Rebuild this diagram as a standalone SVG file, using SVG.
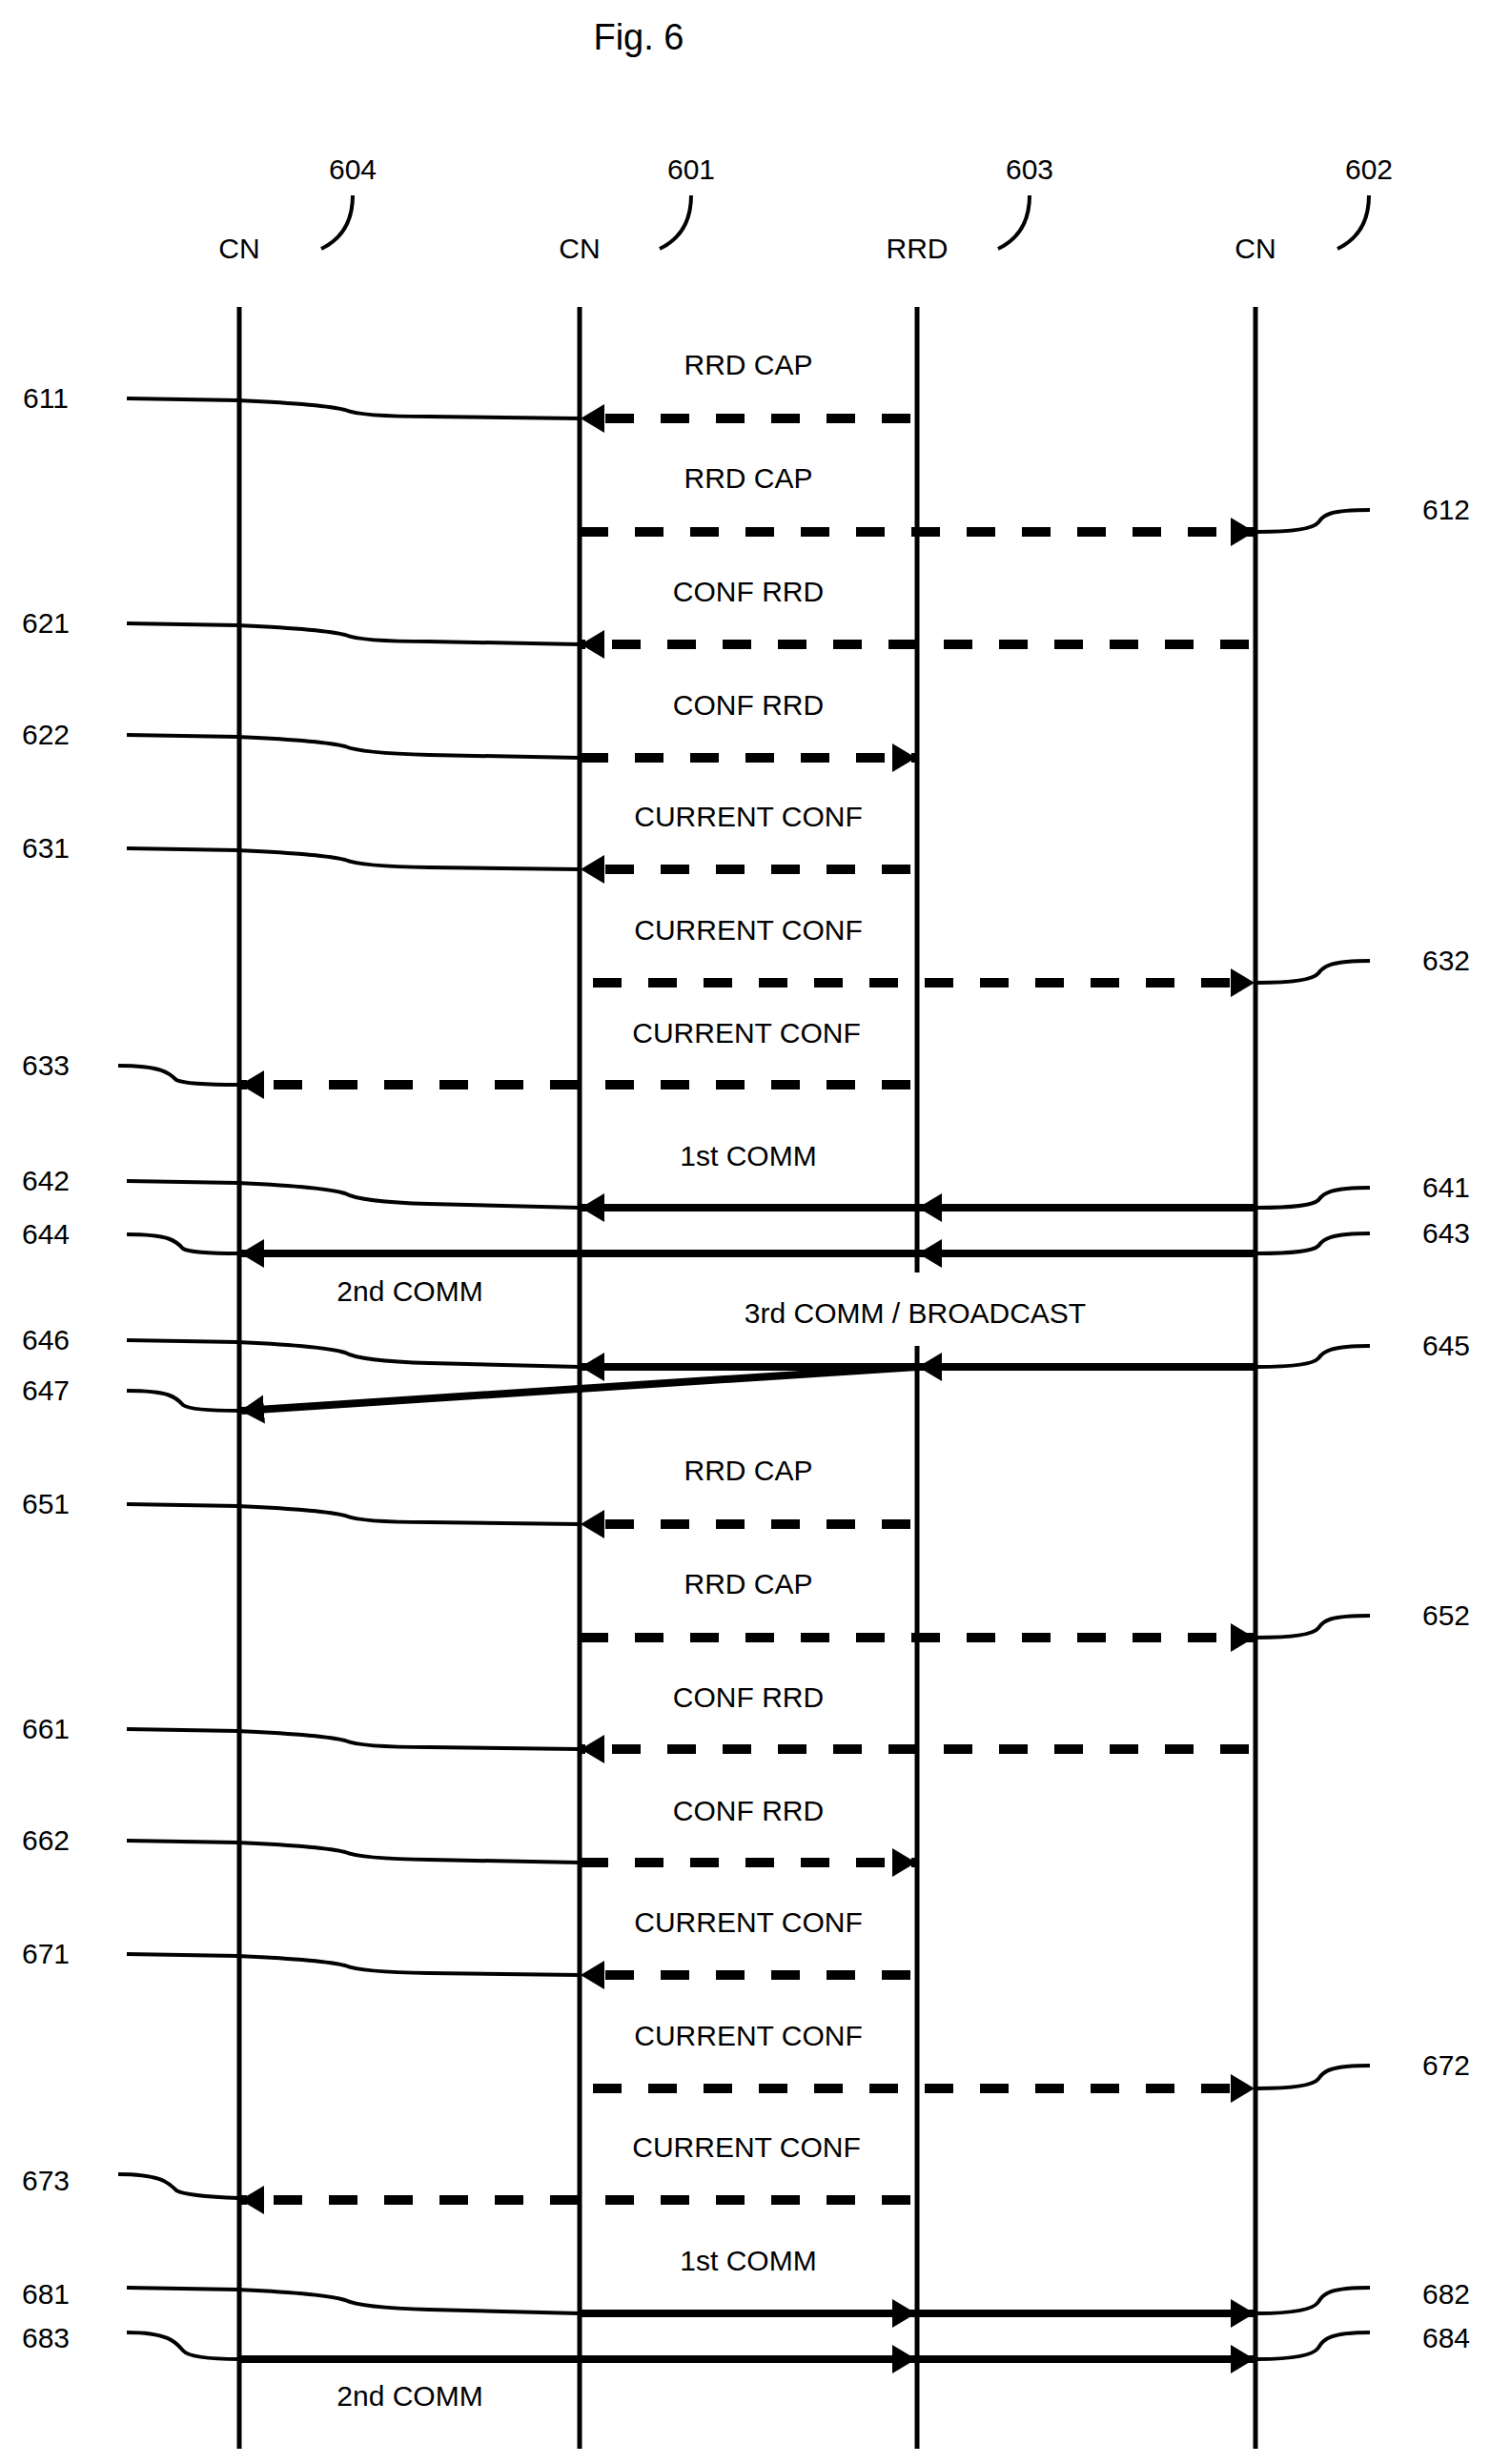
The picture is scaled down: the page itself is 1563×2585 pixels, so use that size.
<svg xmlns="http://www.w3.org/2000/svg" width="1563" height="2585" viewBox="0 0 1563 2585">
<style>
text{font-family:"Liberation Sans",Arial,sans-serif;font-size:30px;fill:#000;text-anchor:middle}
.life{stroke:#000;stroke-width:5;fill:none}
.dash{stroke:#000;stroke-width:10;stroke-dasharray:30 28;fill:none;marker-end:url(#ah)}
.solid{stroke:#000;stroke-width:8;fill:none;marker-end:url(#ah)}
.lead{stroke:#000;stroke-width:4;fill:none}
</style>
<defs>
<marker id="ah" markerUnits="userSpaceOnUse" markerWidth="26" markerHeight="32" viewBox="0 -16 26 32" refX="24" refY="0" orient="auto">
<path d="M0,-15 L25,0 L0,15 z" fill="#000"/>
</marker>
</defs>
<text x="670" y="52" style="font-size:38px">Fig. 6</text>
<g id="n604"><text x="370" y="188">604</text><text x="251" y="271">CN</text><path class="lead" d="M370,205 C370,230 360,250 337,261"/><line class="life" x1="251" y1="322" x2="251" y2="2569"/></g>
<g id="n601"><text x="725" y="188">601</text><text x="608" y="271">CN</text><path class="lead" d="M725,205 C725,230 715,250 692,261"/><line class="life" x1="608" y1="322" x2="608" y2="2569"/></g>
<g id="n603"><text x="1080" y="188">603</text><text x="962" y="271">RRD</text><path class="lead" d="M1080,205 C1080,230 1070,250 1047,261"/><path class="life" d="M962,322 V1335 M962,1412 V2569"/></g>
<g id="n602"><text x="1436" y="188">602</text><text x="1317" y="271">CN</text><path class="lead" d="M1436,205 C1436,230 1426,250 1403,261"/><line class="life" x1="1317" y1="322" x2="1317" y2="2569"/></g>
<g id="labels">
<text x="785" y="393">RRD CAP</text><text x="785" y="512">RRD CAP</text><text x="785" y="631">CONF RRD</text><text x="785" y="750">CONF RRD</text>
<text x="785" y="867">CURRENT CONF</text><text x="785" y="986">CURRENT CONF</text><text x="783" y="1094">CURRENT CONF</text>
<text x="785" y="1223">1st COMM</text><text x="430" y="1365">2nd COMM</text><text x="960" y="1388">3rd COMM / BROADCAST</text>
<text x="785" y="1553">RRD CAP</text><text x="785" y="1672">RRD CAP</text><text x="785" y="1791">CONF RRD</text><text x="785" y="1910">CONF RRD</text>
<text x="785" y="2027">CURRENT CONF</text><text x="785" y="2146">CURRENT CONF</text><text x="783" y="2263">CURRENT CONF</text>
<text x="785" y="2382">1st COMM</text><text x="430" y="2524">2nd COMM</text>
<text x="48" y="428">611</text><text x="1517" y="545">612</text><text x="48" y="664">621</text><text x="48" y="781">622</text>
<text x="48" y="900">631</text><text x="1517" y="1018">632</text><text x="48" y="1128">633</text>
<text x="48" y="1249">642</text><text x="1517" y="1256">641</text><text x="48" y="1305">644</text><text x="1517" y="1304">643</text>
<text x="48" y="1416">646</text><text x="1517" y="1422">645</text><text x="48" y="1469">647</text>
<text x="48" y="1588">651</text><text x="1517" y="1705">652</text><text x="48" y="1824">661</text><text x="48" y="1941">662</text>
<text x="48" y="2060">671</text><text x="1517" y="2177">672</text><text x="48" y="2298">673</text>
<text x="48" y="2417">681</text><text x="1517" y="2417">682</text><text x="48" y="2463">683</text><text x="1517" y="2463">684</text>
</g>
<g id="connectors">
<path class="dash" d="M955,439 H610"/>
<path class="dash" d="M608,558 H1315"/>
<path class="dash" d="M1310,676 H610"/>
<path class="dash" d="M608,795 H960"/>
<path class="dash" d="M955,912 H610"/>
<path class="dash" d="M622,1031 H1315"/>
<path class="dash" d="M955,1138 H253"/>
<path class="solid" d="M1317,1267 H964"/><path class="solid" d="M962,1267 H610"/>
<path class="solid" d="M1317,1315 H964"/><path class="solid" d="M962,1315 H253"/>
<path class="solid" d="M1317,1434 H964"/><path class="solid" d="M962,1434 H610"/><path class="solid" d="M962,1434 L253,1480"/>
<path class="dash" d="M955,1599 H610"/>
<path class="dash" d="M608,1718 H1315"/>
<path class="dash" d="M1310,1835 H610"/>
<path class="dash" d="M608,1954 H960"/>
<path class="dash" d="M955,2072 H610"/>
<path class="dash" d="M622,2191 H1315"/>
<path class="dash" d="M955,2308 H253"/>
<path class="solid" d="M608,2427 H960"/><path class="solid" d="M962,2427 H1315"/>
<path class="solid" d="M251,2475 H960"/><path class="solid" d="M962,2475 H1315"/>
</g>
<g id="leaders">
<path class="lead" d="M133,418 L250,420 Q340,424 362,430 Q378,437 450,437 L608,439"/>
<path class="lead" d="M133,654 L250,656 Q340,660 362,666 Q378,673 450,673 L608,676"/>
<path class="lead" d="M133,771 L250,773 Q340,777 362,783 Q378,790 450,792 L608,795"/>
<path class="lead" d="M133,890 L250,892 Q340,896 362,902 Q378,909 450,910 L608,912"/>
<path class="lead" d="M133,1239 L250,1241 Q340,1245 362,1252 Q378,1261 450,1263 L608,1267"/>
<path class="lead" d="M133,1406 L250,1408 Q340,1412 362,1419 Q378,1428 450,1430 L608,1434"/>
<path class="lead" d="M133,1578 L250,1580 Q340,1584 362,1590 Q378,1597 450,1597 L608,1599"/>
<path class="lead" d="M133,1814 L250,1816 Q340,1820 362,1826 Q378,1833 450,1833 L608,1835"/>
<path class="lead" d="M133,1931 L250,1933 Q340,1937 362,1943 Q378,1950 450,1951 L608,1954"/>
<path class="lead" d="M133,2050 L250,2052 Q340,2056 362,2062 Q378,2069 450,2070 L608,2072"/>
<path class="lead" d="M133,2400 L250,2402 Q340,2406 362,2413 Q378,2421 450,2423 L608,2427"/>
<path class="lead" d="M133,1295 C178,1295 185,1302 192,1310 Q200,1315 251,1315"/>
<path class="lead" d="M133,1459 C178,1459 185,1466 192,1474 Q200,1480 251,1480"/>
<path class="lead" d="M124,1118 C170,1118 178,1126 185,1133 Q195,1138 251,1138"/>
<path class="lead" d="M124,2281 C170,2281 178,2291 185,2298 Q195,2304 251,2306"/>
<path class="lead" d="M133,2447 C178,2447 185,2458 192,2466 Q200,2475 251,2475"/>
<path class="lead" d="M1437,535 C1395,535 1388,540 1383,548 Q1375,558 1319,558"/>
<path class="lead" d="M1437,1008 C1395,1008 1388,1014 1383,1021 Q1375,1031 1319,1031"/>
<path class="lead" d="M1437,1246 C1395,1246 1388,1252 1383,1259 Q1375,1267 1319,1267"/>
<path class="lead" d="M1437,1294 C1395,1294 1388,1300 1383,1307 Q1375,1315 1319,1315"/>
<path class="lead" d="M1437,1412 C1395,1412 1388,1418 1383,1425 Q1375,1434 1319,1434"/>
<path class="lead" d="M1437,1695 C1395,1695 1388,1700 1383,1708 Q1375,1718 1319,1718"/>
<path class="lead" d="M1437,2167 C1395,2167 1388,2173 1383,2181 Q1375,2191 1319,2191"/>
<path class="lead" d="M1437,2400 C1395,2400 1388,2406 1383,2415 Q1375,2427 1319,2427"/>
<path class="lead" d="M1437,2447 C1395,2447 1388,2454 1383,2463 Q1375,2475 1319,2475"/>
</g>
</svg>
